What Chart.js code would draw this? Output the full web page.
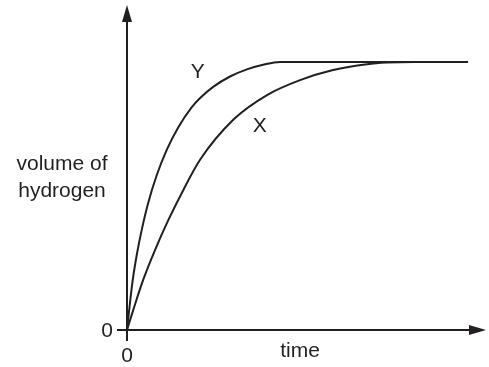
<!DOCTYPE html>
<html lang="en">
<head>
  <meta charset="UTF-8">
  <title>Volume of hydrogen against time</title>
  <script src="https://cdn.jsdelivr.net/npm/chart.js"></script>
  <style>
    body { margin: 0; background: #fff; }
    #chart { display: block; }
  </style>
</head>
<body>
  <canvas id="chart" width="489" height="367"></canvas>

  <script>
    // Curve Y (faster reaction)
    var timeY = [0, 1.5, 2.7, 4.1, 5.9, 8.3, 11.1, 14.3, 18, 20.3, 24, 28.7, 33.4, 37.9, 42.6, 95];
    var volumeY = [0, 14.6, 23, 30.8, 39.1, 47.7, 55.5, 62.4, 68.5, 71.3, 74.8, 78, 80.2, 81.6, 82.5, 82.5];

    // Curve X (slower reaction)
    var timeX = [0, 1.75, 4.5, 7.8, 11.5, 15.7, 20.3, 29.8, 39, 48.2, 57.4, 66.9, 72.4, 80, 95];
    var volumeX = [0, 6.2, 15.4, 24.6, 33.8, 43.1, 52.3, 64.9, 72.3, 76.9, 80, 81.8, 82.3, 82.5, 82.5];

    var curveLabels = ['Y', 'X'];
    var axisLabels = { x: 'time', y: ['volume of', 'hydrogen'] };
    var tickLabels = ['0'];

    var ink = '#231f20';
    var font = '21px "Liberation Sans", Arial, sans-serif';

    function points(ts, vs) {
      return ts.map(function(t, i) { return { x: t, y: vs[i] }; });
    }

    // Axes with arrows, labels drawn on the scales
    var axesPlugin = {
      id: 'axes',
      afterDatasetsDraw: function(chart) {
        var ctx = chart.ctx;
        var xs = chart.scales.x, ys = chart.scales.y;
        var x0 = xs.getPixelForValue(0), y0 = ys.getPixelForValue(0);
        var xEnd = xs.getPixelForValue(100), yEnd = ys.getPixelForValue(100);

        ctx.save();
        ctx.strokeStyle = ink;
        ctx.fillStyle = ink;
        ctx.lineWidth = 2;

        // y axis (with its short stub below the origin)
        ctx.beginPath();
        ctx.moveTo(x0, y0 + 11);
        ctx.lineTo(x0, yEnd + 14);
        ctx.stroke();
        ctx.beginPath();
        ctx.moveTo(x0, yEnd);
        ctx.lineTo(x0 - 5, yEnd + 17);
        ctx.lineTo(x0 + 5, yEnd + 17);
        ctx.closePath();
        ctx.fill();

        // x axis (with its short stub left of the origin)
        ctx.beginPath();
        ctx.moveTo(x0 - 10, y0);
        ctx.lineTo(xEnd - 14, y0);
        ctx.stroke();
        ctx.beginPath();
        ctx.moveTo(xEnd, y0);
        ctx.lineTo(xEnd - 17, y0 - 5);
        ctx.lineTo(xEnd - 17, y0 + 5);
        ctx.closePath();
        ctx.fill();

        // text
        ctx.font = font;
        ctx.fillStyle = ink;
        ctx.textAlign = 'right';
        ctx.textBaseline = 'middle';
        ctx.fillText(tickLabels[0], x0 - 14, y0 + 1);
        ctx.textAlign = 'center';
        ctx.textBaseline = 'alphabetic';
        ctx.fillText(tickLabels[0], x0, y0 + 32);
        ctx.fillText(axisLabels.x, xs.getPixelForValue(48.2), y0 + 27);
        ctx.fillText(axisLabels.y[0], 62, ys.getPixelForValue(50) + 2);
        ctx.fillText(axisLabels.y[1], 62, ys.getPixelForValue(50) + 29);

        // curve names
        ctx.textBaseline = 'middle';
        ctx.fillText(curveLabels[0], xs.getPixelForValue(19.7), ys.getPixelForValue(79.3));
        ctx.fillText(curveLabels[1], xs.getPixelForValue(37), ys.getPixelForValue(62.8));
        ctx.restore();
      }
    };

    var lineStyle = {
      borderColor: ink,
      borderWidth: 2,
      pointRadius: 0,
      fill: false,
      showLine: true,
      cubicInterpolationMode: 'monotone'
    };

    new Chart(document.getElementById('chart'), {
      type: 'scatter',
      data: {
        datasets: [
          Object.assign({ label: curveLabels[0], data: points(timeY, volumeY) }, lineStyle),
          Object.assign({ label: curveLabels[1], data: points(timeX, volumeX) }, lineStyle)
        ]
      },
      options: {
        responsive: false,
        animation: false,
        layout: { padding: { left: 127, right: 3, top: 5, bottom: 37 } },
        scales: {
          x: { type: 'linear', min: 0, max: 100, display: false },
          y: { type: 'linear', min: 0, max: 100, display: false }
        },
        plugins: {
          legend: { display: false },
          tooltip: { enabled: false }
        }
      },
      plugins: [axesPlugin]
    });
  </script>
</body>
</html>
